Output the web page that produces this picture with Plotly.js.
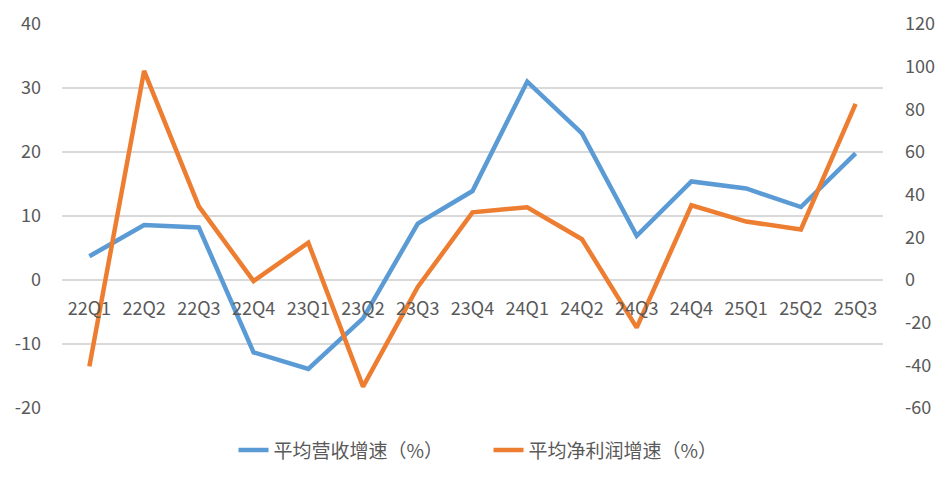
<!DOCTYPE html>
<html>
<head>
<meta charset="utf-8">
<script src="https://cdn.plot.ly/plotly-3.0.1.min.js"></script>
<style>
html,body{margin:0;padding:0;background:#fff;}
#chart{width:949px;height:483px;}
</style>
</head>
<body>
<div id="chart"></div>
<script>
const categories = ["22Q1","22Q2","22Q3","22Q4","23Q1","23Q2","23Q3","23Q4","24Q1","24Q2","24Q3","24Q4","25Q1","25Q2","25Q3"];
const revenueGrowth = [3.7, 8.6, 8.2, -11.3, -13.9, -6.0, 8.8, 13.9, 31.0, 22.9, 6.9, 15.4, 14.3, 11.4, 19.8];
const profitGrowth = [-40.5, 98, 34.5, -0.5, 17.5, -50, -3.3, 31.7, 34.1, 19.1, -22.3, 35.0, 27.4, 23.7, 82.6];
const leftTicks = [-20, -10, 0, 10, 20, 30, 40];
const leftTickLabels = ["-20", "-10", "0", "10", "20", "30", "40"];
const rightTicks = [-60, -40, -20, 0, 20, 40, 60, 80, 100, 120];
const rightTickLabels = ["-60", "-40", "-20", "0", "20", "40", "60", "80", "100", "120"];
const seriesNames = ["平均营收增速（%）", "平均净利润增速（%）"];

const font = "'Noto Sans CJK SC', 'Noto Sans', sans-serif";
const textColor = "#595959";

const traces = [
  {x: categories, y: revenueGrowth, name: seriesNames[0], type: "scatter", mode: "lines",
   line: {color: "#5B9BD5", width: 4.5}, yaxis: "y"},
  {x: categories, y: profitGrowth, name: seriesNames[1], type: "scatter", mode: "lines",
   line: {color: "#ED7D31", width: 4.5}, yaxis: "y2"}
];

const layout = {
  width: 949, height: 483,
  margin: {l: 62, r: 66, t: 24, b: 75},
  paper_bgcolor: "#fff", plot_bgcolor: "#fff",
  font: {family: font, size: 18, color: textColor},
  showlegend: true,
  legend: {orientation: "h", x: 0.5195, xanchor: "center", y: -0.11, yanchor: "middle",
           font: {family: font, size: 19, color: textColor}, entrywidth: 210, tracegroupgap: 0},
  xaxis: {type: "category", anchor: "free", position: 1/3, showgrid: false, zeroline: false,
          showline: false, ticks: "", ticklabelstandoff: 16,
          tickfont: {family: font, size: 18, color: textColor}, fixedrange: true,
          range: [-0.5, categories.length - 0.5]},
  yaxis: {range: [-20, 40], tickvals: leftTicks, ticktext: leftTickLabels, showgrid: true,
          gridcolor: "#D9D9D9", gridwidth: 1.5,
          zeroline: false, showline: false, ticks: "", ticklabelstandoff: 20,
          tickfont: {family: font, size: 18, color: textColor}},
  yaxis2: {range: [-60, 120], tickvals: rightTicks, ticktext: rightTickLabels, overlaying: "y",
           side: "right", showgrid: false,
           zeroline: false, showline: false, ticks: "", ticklabelstandoff: 21,
           tickfont: {family: font, size: 18, color: textColor}}
};

Plotly.newPlot("chart", traces, layout, {displayModeBar: false, staticPlot: true});
</script>
</body>
</html>
